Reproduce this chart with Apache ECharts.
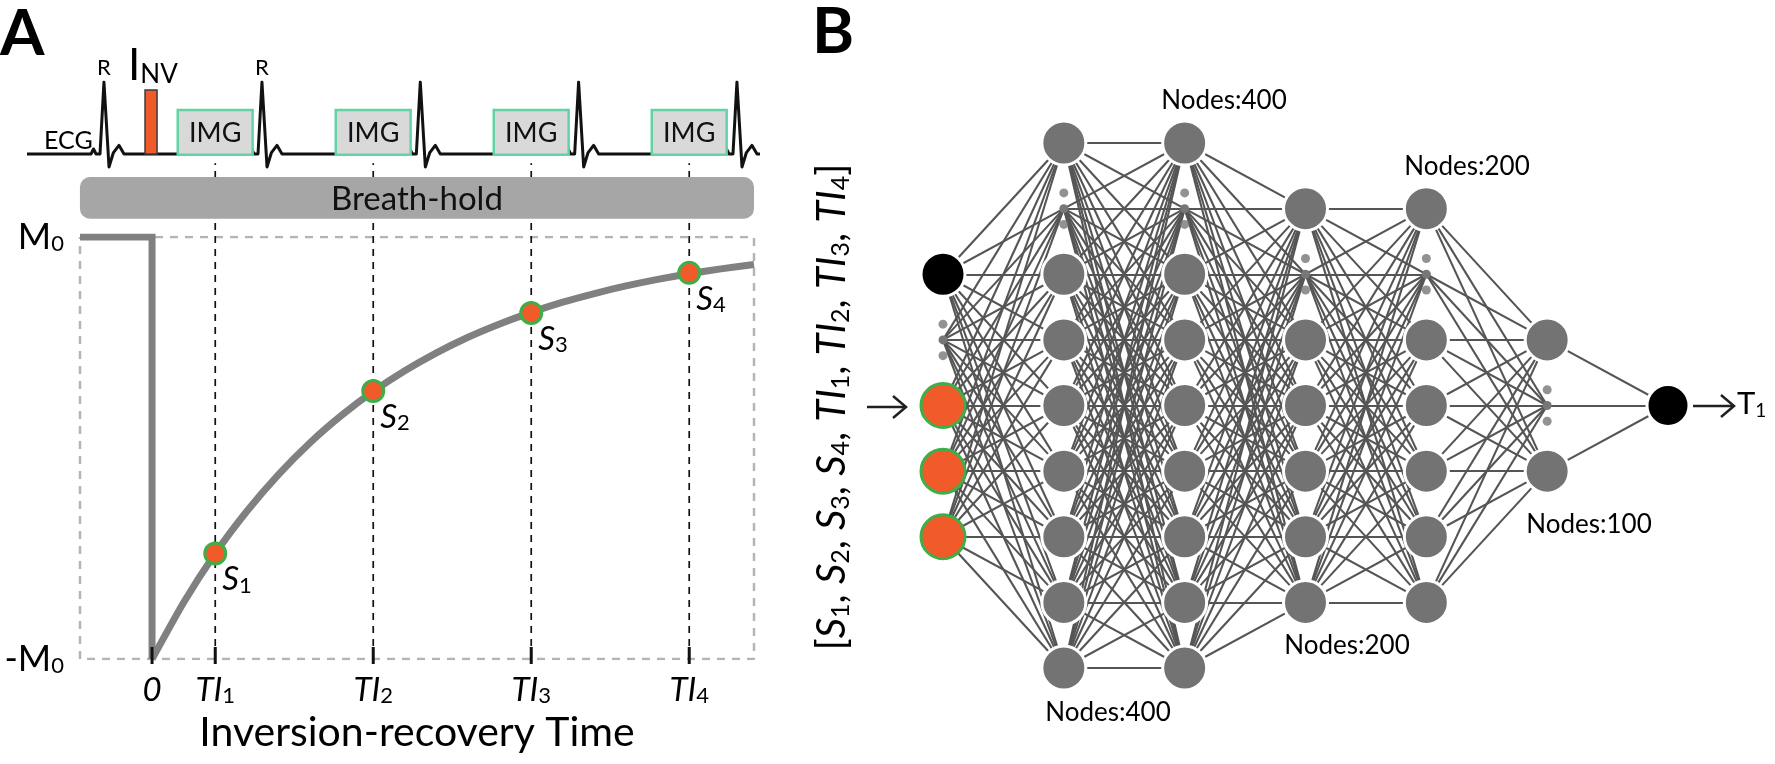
<!DOCTYPE html>
<html><head><meta charset="utf-8">
<script src="https://cdn.jsdelivr.net/npm/echarts@6/dist/echarts.min.js"></script>
<style>html,body{margin:0;padding:0;background:#fff}#c{width:1775px;height:764px}</style>
</head><body><div id="c"></div>
<script>
// ================= Panel A data =================
const timeRange = [-456, 3810];          // ms, inversion-recovery axis
const ecgRange = [-791, 3848];           // ms, ECG strip
const tiTimes = [400, 1400, 2400, 3400]; // inversion times
const tiLabels = ['1', '2', '3', '4'];
const signalValues = [-0.50, 0.27, 0.64, 0.83];
const signalLabels = ['1', '2', '3', '4'];
const invertStep = [[-456, 1], [0, 1], [0, -1]];
const recoveryCurve = [[0,-1],[200,-0.732],[400,-0.500],[600,-0.300],[800,-0.126],[1000,0.025],[1200,0.155],
  [1400,0.268],[1600,0.366],[1800,0.451],[2000,0.525],[2200,0.588],[2400,0.643],[2600,0.691],[2800,0.732],
  [3000,0.768],[3200,0.799],[3400,0.826],[3600,0.849],[3810,0.870]];
const ecgTrace = [
  [-791,0],
  [-386,0],[-370,0.07],[-354,0],[-329,0],[-304,1],[-272,-0.18],[-244,0.02],[-209,0.12],[-177,0],
  [614,0],[630,0.07],[646,0],[671,0],[696,1],[728,-0.18],[756,0.02],[791,0.12],[823,0],
  [1616,0],[1632,0.07],[1648,0],[1673,0],[1698,1],[1730,-0.18],[1758,0.02],[1793,0.12],[1825,0],
  [2618,0],[2634,0.07],[2650,0],[2675,0],[2700,1],[2732,-0.18],[2760,0.02],[2795,0.12],[2827,0],
  [3620,0],[3636,0.07],[3652,0],[3677,0],[3702,1],[3734,-0.18],[3762,0.02],[3797,0.12],[3829,0],
  [3848,0]
];
const imgWindows = [[163, 637], [1163, 1637], [2163, 2637], [3163, 3637]];
const inversionPulse = [[-44, 32]];
const breathHold = [[-456, 3810]];
const frameBox = [[-456, 1], [3810, 1], [3810, -1], [-456, -1], [-456, 1]];

// ================= Panel B data =================
const layerNodeRows = [
  [-2, 0, 1, 2],
  [-4, -2, -1, 0, 1, 2, 3, 4],
  [-4, -2, -1, 0, 1, 2, 3, 4],
  [-3, -1, 0, 1, 2, 3],
  [-3, -1, 0, 1, 2, 3],
  [-1, 1],
  [0]
];
const layerEllipsisRows = [-1, -3, -3, -2, -2, 0, null];
const inputBiasRow = -2;
const layerSizeLabels = ['Nodes:400', 'Nodes:400', 'Nodes:200', 'Nodes:200', 'Nodes:100'];

// ================= build =================
const FF = 'Lato, "Open Sans", sans-serif';
const GRAY = '#808080';
const chart = echarts.init(document.getElementById('c'), null, {renderer: 'canvas', width: 1775, height: 764});

// network nodes & links
const nodes = [], links = [], layerIdx = [], extraDots = [];
const lastLayer = layerNodeRows.length - 1;
layerNodeRows.forEach((rows, l) => {
  const ids = [];
  rows.forEach((r, k) => {
    let color = '#737373', border = '#ffffff', size = 44;
    if (l === 0) {
      if (r === inputBiasRow) { color = '#000000'; }
      else { color = '#f15a29'; border = '#3fae49'; }
    }
    if (l === lastLayer) { color = '#000000'; size = 42; }
    ids.push(nodes.length);
    nodes.push({name: 'n' + l + '_' + k, value: [l, r], symbolSize: size,
      itemStyle: {color: color, borderColor: border, borderWidth: 3}});
  });
  const er = layerEllipsisRows[l];
  if (er !== null) {
    ids.push(nodes.length);
    nodes.push({name: 'e' + l, value: [l, er], symbolSize: 9, itemStyle: {color: '#777777', borderWidth: 0}});
    extraDots.push([l, er - 0.24], [l, er + 0.24]);
  }
  layerIdx.push(ids);
});
for (let l = 0; l < lastLayer; l++) {
  layerIdx[l].forEach(a => layerIdx[l + 1].forEach(b => links.push({source: a, target: b})));
}

const subRich = {
  it: {fontSize: 33, fontStyle: 'italic', fontFamily: FF, color: '#000', lineHeight: 34},
  sub: {fontSize: 22, fontFamily: FF, color: '#000', lineHeight: 18, verticalAlign: 'bottom'}
};
const gridBase = {containLabel: false, outerBoundsMode: 'none'};

const option = {
  backgroundColor: '#ffffff',
  animation: false,
  grid: [
    Object.assign({left: 27, right: 1015, top: 82, bottom: 538}, gridBase),
    Object.assign({left: 80, right: 1021, top: 237, bottom: 105}, gridBase),
    Object.assign({left: 943, right: 107, top: 143, bottom: 96}, gridBase)
  ],
  xAxis: [
    {gridIndex: 0, type: 'value', min: ecgRange[0], max: ecgRange[1], show: false},
    {gridIndex: 1, type: 'value', min: timeRange[0], max: timeRange[1],
      axisLine: {show: false}, axisTick: {show: false}, splitLine: {show: false},
      axisLabel: {
        customValues: [0].concat(tiTimes), margin: 14,
        formatter: v => { const i = tiTimes.indexOf(v); return i < 0 ? '{it|0}' : '{it|TI}{sub|' + tiLabels[i] + '}'; },
        rich: subRich
      },
      name: 'Inversion-recovery Time', nameLocation: 'middle', nameGap: 53,
      nameTextStyle: {fontSize: 41, fontFamily: FF, color: '#000', verticalAlign: 'top'}
    },
    {gridIndex: 2, type: 'value', min: 0, max: 6, show: false}
  ],
  yAxis: [
    {gridIndex: 0, type: 'value', min: -1, max: 1, show: false},
    {gridIndex: 1, type: 'value', min: -1, max: 1,
      axisLine: {show: false}, axisTick: {show: false}, splitLine: {show: false},
      axisLabel: {
        customValues: [-1, 1], margin: 16,
        formatter: v => v > 0 ? '{m|M}{z|0}' : '{m|-M}{z|0}',
        rich: {
          m: {fontSize: 36, fontFamily: FF, color: '#000', lineHeight: 36},
          z: {fontSize: 22, fontFamily: FF, color: '#000', lineHeight: 26, verticalAlign: 'bottom'}
        }
      },
      name: 'Mz', nameLocation: 'middle', nameGap: 40, nameRotate: 90,
      nameTextStyle: {fontSize: 38, fontFamily: FF, color: '#000'}
    },
    {gridIndex: 2, type: 'value', min: -4, max: 4, inverse: true, show: false}
  ],
  series: [
    // dashed frame
    {type: 'line', xAxisIndex: 1, yAxisIndex: 1, data: frameBox, symbol: 'none', z: 1, silent: true,
      lineStyle: {color: '#b4b4b4', width: 2.5, type: [8, 7]}},
    // TI dashed verticals
    {type: 'custom', xAxisIndex: 1, yAxisIndex: 1, data: tiTimes.map(t => [t]), z: 2, silent: true, clip: false,
      renderItem: (p, api) => {
        const t = api.value(0);
        const b = api.coord([t, -1]);
        const top = api.coord([t, 1.35]);
        return {type: 'line', shape: {x1: b[0], y1: b[1], x2: top[0], y2: top[1]},
          style: {stroke: '#111', lineWidth: 1.7, lineDash: [7, 6]}};
      }},
    // inversion step
    {type: 'line', xAxisIndex: 1, yAxisIndex: 1, data: invertStep, symbol: 'none', z: 3, silent: true,
      lineStyle: {color: GRAY, width: 7, cap: 'butt', join: 'miter'}},
    // recovery curve
    {type: 'line', xAxisIndex: 1, yAxisIndex: 1, data: recoveryCurve, symbol: 'none', smooth: 0.2, z: 3, silent: true,
      lineStyle: {color: GRAY, width: 7, join: 'round'}},
    // bottom ticks
    {type: 'custom', xAxisIndex: 1, yAxisIndex: 1, data: [0].concat(tiTimes).map(t => [t]), z: 4, silent: true, clip: false,
      renderItem: (p, api) => {
        const b = api.coord([api.value(0), -1]);
        return {type: 'line', shape: {x1: b[0], y1: b[1] - 12, x2: b[0], y2: b[1] + 5},
          style: {stroke: '#111', lineWidth: 3}};
      }},
    // sampled signals
    {type: 'scatter', xAxisIndex: 1, yAxisIndex: 1, z: 5, silent: true,
      data: tiTimes.map((t, i) => ({value: [t, signalValues[i]], name: signalLabels[i]})),
      symbolSize: 21, itemStyle: {color: '#f15a29', borderColor: '#3fae49', borderWidth: 3, opacity: 1},
      label: {show: true, position: [19, 21], align: 'left', verticalAlign: 'top',
        formatter: p => '{it|S}{sub|' + p.name + '}', rich: subRich}},
    // ECG trace
    {type: 'line', xAxisIndex: 0, yAxisIndex: 0, data: ecgTrace, symbol: 'none', z: 3, silent: true,
      lineStyle: {color: '#111', width: 3, join: 'round'}},
    // inversion pulse
    {type: 'custom', xAxisIndex: 0, yAxisIndex: 0, data: inversionPulse, z: 4, silent: true,
      renderItem: (p, api) => {
        const a = api.coord([api.value(0), 0.89]);
        const b = api.coord([api.value(1), 0]);
        return {type: 'rect', shape: {x: a[0], y: a[1], width: b[0] - a[0], height: b[1] - a[1]},
          style: {fill: '#f15a29', stroke: '#3a3a3a', lineWidth: 1.5}};
      }},
    // IMG windows
    {type: 'custom', xAxisIndex: 0, yAxisIndex: 0, data: imgWindows, z: 5, silent: true,
      renderItem: (p, api) => {
        const a = api.coord([api.value(0), 0.61]);
        const b = api.coord([api.value(1), -0.01]);
        return {type: 'group', children: [
          {type: 'rect', shape: {x: a[0], y: a[1], width: b[0] - a[0], height: b[1] - a[1]},
            style: {fill: '#d9d9d9', stroke: '#63d3a6', lineWidth: 2.5}},
          {type: 'text', x: (a[0] + b[0]) / 2, y: (a[1] + b[1]) / 2 + 1,
            style: {text: 'IMG', fontSize: 27, fontFamily: FF, fill: '#111', align: 'center', verticalAlign: 'middle'}}
        ]};
      }},
    // Breath-hold bar
    {type: 'custom', xAxisIndex: 0, yAxisIndex: 0, data: breathHold, z: 10, silent: true, clip: false,
      renderItem: (p, api) => {
        const a = api.coord([api.value(0), -0.32]);
        const b = api.coord([api.value(1), -0.9]);
        return {type: 'group', children: [
          {type: 'rect', shape: {x: a[0], y: a[1], width: b[0] - a[0], height: b[1] - a[1], r: 10},
            style: {fill: '#a6a6a6'}},
          {type: 'text', x: (a[0] + b[0]) / 2, y: (a[1] + b[1]) / 2 + 1,
            style: {text: 'Breath-hold', fontSize: 33, fontFamily: FF, fill: '#111', align: 'center', verticalAlign: 'middle'}}
        ]};
      }},
    // network
    {type: 'graph', coordinateSystem: 'cartesian2d', xAxisIndex: 2, yAxisIndex: 2, silent: true,
      data: nodes, links: links, symbol: 'circle', label: {show: false}, z: 2,
      lineStyle: {color: '#555555', width: 2.1, opacity: 1, curveness: 0}},
    {type: 'scatter', xAxisIndex: 2, yAxisIndex: 2, data: extraDots, symbolSize: 9, z: 4, silent: true,
      itemStyle: {color: '#777777'}}
  ],
  graphic: [
    {type: 'text', x: 0, y: 2, style: {text: 'A', fontSize: 64, fontWeight: 'bold', fontFamily: FF, fill: '#000'}},
    {type: 'text', x: 812, y: 0, style: {text: 'B', fontSize: 64, fontWeight: 'bold', fontFamily: FF, fill: '#000'}},
    {type: 'text', x: 44, y: 141, style: {text: 'ECG', fontSize: 25, fontFamily: FF, fill: '#000', verticalAlign: 'middle'}},
    {type: 'text', x: 104, y: 68, style: {text: 'R', fontSize: 22, fontFamily: FF, fill: '#000', align: 'center', verticalAlign: 'middle'}},
    {type: 'text', x: 262, y: 68, style: {text: 'R', fontSize: 22, fontFamily: FF, fill: '#000', align: 'center', verticalAlign: 'middle'}},
    {type: 'text', x: 128, y: 66, style: {text: '{b|I}{s|NV}', verticalAlign: 'middle',
      rich: {b: {fontSize: 44, fontFamily: FF, fill: '#000', lineHeight: 44}, s: {fontSize: 26, fontFamily: FF, fill: '#000', lineHeight: 30, verticalAlign: 'bottom'}}}},
    // layer labels
    {type: 'text', x: 1224, y: 101, style: {text: layerSizeLabels[0], fontSize: 26, fontFamily: FF, fill: '#000', align: 'center', verticalAlign: 'middle'}},
    {type: 'text', x: 1108, y: 713, style: {text: layerSizeLabels[1], fontSize: 26, fontFamily: FF, fill: '#000', align: 'center', verticalAlign: 'middle'}},
    {type: 'text', x: 1467, y: 167, style: {text: layerSizeLabels[2], fontSize: 26, fontFamily: FF, fill: '#000', align: 'center', verticalAlign: 'middle'}},
    {type: 'text', x: 1347, y: 646, style: {text: layerSizeLabels[3], fontSize: 26, fontFamily: FF, fill: '#000', align: 'center', verticalAlign: 'middle'}},
    {type: 'text', x: 1589, y: 525, style: {text: layerSizeLabels[4], fontSize: 26, fontFamily: FF, fill: '#000', align: 'center', verticalAlign: 'middle'}},
    // input vector label
    {type: 'text', x: 832, y: 407, rotation: Math.PI / 2, style: {
      text: '[{i|S}{b|1}, {i|S}{b|2}, {i|S}{b|3}, {i|S}{b|4}, {i|TI}{b|1}, {i|TI}{b|2}, {i|TI}{b|3}, {i|TI}{b|4}]',
      fontSize: 40, fontFamily: FF, fill: '#000', align: 'center', verticalAlign: 'middle',
      rich: {i: {fontSize: 40, fontStyle: 'italic', fontFamily: FF, fill: '#000', lineHeight: 42},
             b: {fontSize: 25, fontFamily: FF, fill: '#000', lineHeight: 22, verticalAlign: 'bottom'}}}},
    // arrows
    {type: 'polyline', shape: {points: [[867, 407], [906, 407]]}, style: {stroke: '#231f20', lineWidth: 2.5, fill: null}},
    {type: 'polyline', shape: {points: [[893, 396], [906, 407], [893, 418]]}, style: {stroke: '#231f20', lineWidth: 2.5, fill: null}},
    {type: 'polyline', shape: {points: [[1693, 406], [1734, 406]]}, style: {stroke: '#231f20', lineWidth: 2.5, fill: null}},
    {type: 'polyline', shape: {points: [[1721, 395], [1734, 406], [1721, 417]]}, style: {stroke: '#231f20', lineWidth: 2.5, fill: null}},
    {type: 'text', x: 1737, y: 404, style: {text: '{t|T}{s|1}', verticalAlign: 'middle',
      rich: {t: {fontSize: 31, fontFamily: FF, fill: '#000', lineHeight: 32}, s: {fontSize: 19, fontFamily: FF, fill: '#000', lineHeight: 20, verticalAlign: 'bottom'}}}}
  ]
};
chart.setOption(option);
</script></body></html>
